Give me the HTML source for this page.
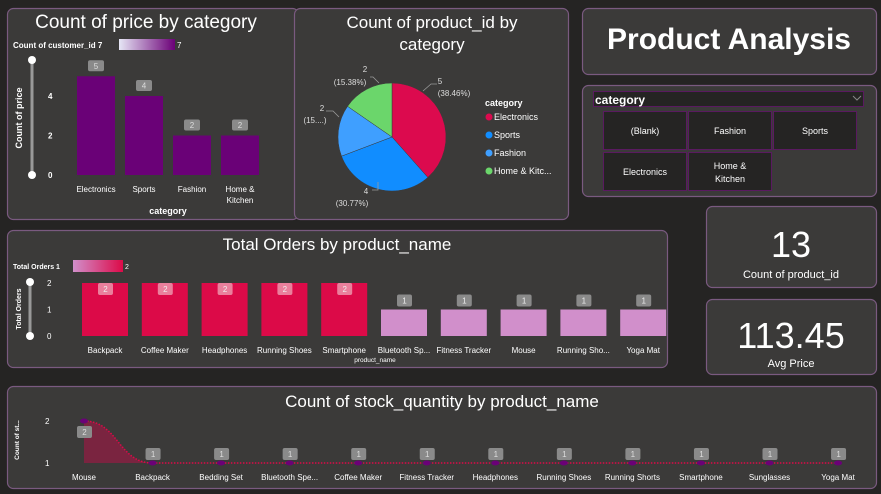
<!DOCTYPE html>
<html><head><meta charset="utf-8">
<style>
body{margin:0;width:881px;height:494px;background:#252423;overflow:hidden;font-family:"Liberation Sans",sans-serif;}
svg{display:block}
text{font-family:"Liberation Sans",sans-serif;}
</style></head>
<body>
<svg id="s" width="881" height="494">
<defs>
<linearGradient id="g1" x1="0" x2="1"><stop offset="0" stop-color="#e6e6f5"/><stop offset="1" stop-color="#6b0077"/></linearGradient>
<linearGradient id="g2" x1="0" x2="1"><stop offset="0" stop-color="#d18fcb"/><stop offset="1" stop-color="#dc0a48"/></linearGradient>
</defs>
<g fill="#3b3a39" stroke="#7a5a80" stroke-width="1.2">
<rect x="7.5" y="8.5" width="291" height="211" rx="6"/>
<rect x="294.5" y="8.5" width="274" height="211" rx="6"/>
<rect x="582.5" y="8.5" width="294" height="66" rx="6"/>
<rect x="582.5" y="85.5" width="294" height="111" rx="6"/>
<rect x="7.5" y="230.5" width="660" height="137" rx="6"/>
<rect x="706.5" y="206.5" width="170" height="81" rx="6"/>
<rect x="706.5" y="299.5" width="170" height="75" rx="6"/>
<rect x="7.5" y="386.5" width="869" height="102" rx="6"/>
</g>
<g fill="#fff" text-anchor="middle">
<text x="146" y="28" font-size="19">Count of price by category</text>
<text x="432" y="28" font-size="17">Count of product_id by</text>
<text x="432" y="50" font-size="17">category</text>
<text x="729" y="49" font-size="30" font-weight="bold">Product Analysis</text>
<text x="337" y="250" font-size="17">Total Orders by product_name</text>
<text x="442" y="407" font-size="17">Count of stock_quantity by product_name</text>
<text x="791" y="257" font-size="36">13</text>
<text x="791" y="278" font-size="11">Count of product_id</text>
<text x="791" y="348" font-size="36">113.45</text>
<text x="791" y="367" font-size="11">Avg Price</text>
</g>
<g>
<rect x="593.5" y="91.5" width="270" height="15" fill="#252423" stroke="#5a1a60"/>
<text x="595" y="104" fill="#fff" font-size="12" font-weight="bold">category</text>
<path d="M853 96 l4 4 l4 -4" fill="none" stroke="#888"/>
</g>
<g id="slicer" font-size="9" fill="#fff" text-anchor="middle"></g>
<g id="c1"></g><g id="c2"></g><g id="c5"></g><g id="c8"></g>
</svg>
<script>
const NS="http://www.w3.org/2000/svg";
function el(p,t,a,txt){const e=document.createElementNS(NS,t);for(const k in a)e.setAttribute(k,a[k]);if(txt!==undefined)e.textContent=txt;p.appendChild(e);return e;}

const cat1=["Electronics","Sports","Fashion","Home & Kitchen"];
const val1=[5,4,2,2];
const ticks1=[0,2,4];
const pieCats=["Electronics","Sports","Fashion","Home & Kitchen"];
const pieVals=[5,4,2,2];
const pieColors=["#dc0a4e","#118dff","#3f9fff","#6bd66b"];
const cat5=["Backpack","Coffee Maker","Headphones","Running Shoes","Smartphone","Bluetooth Sp...","Fitness Tracker","Mouse","Running Sho...","Yoga Mat"];
const val5=[2,2,2,2,2,1,1,1,1,1];
const ticks5=[0,1,2];
const cat8=["Mouse","Backpack","Bedding Set","Bluetooth Spe...","Coffee Maker","Fitness Tracker","Headphones","Running Shoes","Running Shorts","Smartphone","Sunglasses","Yoga Mat"];
const val8=[2,1,1,1,1,1,1,1,1,1,1,1];
const ticks8=[1,2];
const slicerItems=["(Blank)","Fashion","Sports","Electronics","Home & Kitchen"];

(function(){const g=document.getElementById('slicer');
slicerItems.forEach((s,i)=>{const c=i%3,r=Math.floor(i/3);const x=603+c*85,y=111+r*41;
const b=el(g,'rect',{x:x+.5,y:y+.5,width:83,height:38,fill:'#252423',stroke:'#5a1a60'});


if(s==="Home & Kitchen"){el(g,'text',{x:x+42,y:y+17},"Home &");el(g,'text',{x:x+42,y:y+30},"Kitchen");}
else el(g,'text',{x:x+42,y:y+23},s);});})();

(function(){const g=document.getElementById('c1');
const y0=175,k=19.75,x0=96,step=48,w=38;const Y=v=>y0-v*k,X=i=>x0+i*step;
el(g,'text',{x:13,y:48,fill:'#fff','font-size':8,'font-weight':'bold'},"Count of customer_id  7");
el(g,'rect',{x:119,y:39,width:56,height:11,fill:'url(#g1)'});
el(g,'text',{x:177,y:48,fill:'#fff','font-size':8},"7");
el(g,'line',{x1:32,y1:60,x2:32,y2:175,stroke:'#999','stroke-width':3});
el(g,'circle',{cx:32,cy:60,r:4,fill:'#fff'});el(g,'circle',{cx:32,cy:175,r:4,fill:'#fff'});
el(g,'text',{x:22,y:118,fill:'#fff','font-size':9,'font-weight':'bold','text-anchor':'middle',transform:'rotate(-90 22 118)'},"Count of price");
ticks1.forEach(t=>el(g,'text',{x:48,y:Y(t)+3,fill:'#fff','font-size':8,'font-weight':'bold'},t));
val1.forEach((v,i)=>{const r=el(g,'rect',{x:X(i)-w/2,y:Y(v),width:w,height:v*k,fill:'#6a0177'});


el(g,'rect',{x:X(i)-8,y:Y(v)-16,width:16,height:11,rx:2,fill:'#8a8a8a'});
el(g,'text',{x:X(i),y:Y(v)-7.5,fill:'#ddd','font-size':8,'text-anchor':'middle'},v);
if(cat1[i]==="Home & Kitchen"){el(g,'text',{x:X(i),y:192,fill:'#fff','font-size':8,'text-anchor':'middle'},"Home &");el(g,'text',{x:X(i),y:203,fill:'#fff','font-size':8,'text-anchor':'middle'},"Kitchen");}
else el(g,'text',{x:X(i),y:192,fill:'#fff','font-size':8,'text-anchor':'middle'},cat1[i]);});
el(g,'text',{x:168,y:214,fill:'#fff','font-size':9,'font-weight':'bold','text-anchor':'middle'},"category");})();

(function(){const g=document.getElementById('c2');const cx=392,cy=137,R=54;
const tot=pieVals.reduce((a,b)=>a+b,0);let a=-Math.PI/2;
// label anchor positions (layout only)
const lbl=[[440,84,454,96,'M423,91 L431,84 L437,84'],[366,194,352,206,'M378,182 L378,190 L372,190'],[322,111,315,123,'M339,117 L333,111 L326,111'],[365,72,350,85,'M379,83 L373,77 L370,77']];
pieVals.forEach((v,i)=>{const a2=a+v/tot*2*Math.PI;
const p=el(g,'path',{d:`M${cx},${cy} L${cx+R*Math.cos(a)},${cy+R*Math.sin(a)} A${R},${R} 0 ${a2-a>Math.PI?1:0} 1 ${cx+R*Math.cos(a2)},${cy+R*Math.sin(a2)} Z`,fill:pieColors[i],stroke:'#3b3a39','stroke-width':0.5});


const pct=(v/tot*100).toFixed(2);
const L=lbl[i];
el(g,'path',{d:L[4],fill:'none',stroke:'#999','stroke-width':0.8});
el(g,'text',{x:L[0],y:L[1],fill:'#ddd','font-size':8,'text-anchor':'middle'},v);
el(g,'text',{x:L[2],y:L[3],fill:'#ddd','font-size':8,'text-anchor':'middle'},i==2?"(15....)":"("+pct+"%)");
a=a2;});
el(g,'text',{x:485,y:106,fill:'#fff','font-size':9,'font-weight':'bold'},"category");
pieCats.forEach((c,i)=>{el(g,'circle',{cx:489,cy:117+i*18,r:3.5,fill:pieColors[i]});
const t=el(g,'text',{x:494,y:120+i*18,fill:'#fff','font-size':9},c==="Home & Kitchen"?"Home & Kitc...":c);
});})();

(function(){const g=document.getElementById('c5');
const y0=336,k=26.5,x0=105,step=59.8,w=46;const Y=v=>y0-v*k,X=i=>x0+i*step;
el(g,'text',{x:13,y:269,fill:'#fff','font-size':7,'font-weight':'bold'},"Total Orders  1");
el(g,'rect',{x:73,y:260,width:50,height:12,fill:'url(#g2)'});
el(g,'text',{x:125,y:269,fill:'#fff','font-size':7},"2");
el(g,'line',{x1:30,y1:282,x2:30,y2:336,stroke:'#999','stroke-width':3});
el(g,'circle',{cx:30,cy:282,r:4,fill:'#fff'});el(g,'circle',{cx:30,cy:336,r:4,fill:'#fff'});
el(g,'text',{x:21,y:309,fill:'#fff','font-size':7,'font-weight':'bold','text-anchor':'middle',transform:'rotate(-90 21 309)'},"Total Orders");
ticks5.forEach(t=>el(g,'text',{x:47,y:Y(t)+3,fill:'#fff','font-size':8},t));
val5.forEach((v,i)=>{const r=el(g,'rect',{x:X(i)-w/2,y:Y(v),width:w,height:v*k,fill:v>=2?'#dc0a48':'#d18fcb'});


const ly=v>=2?Y(v):Y(v)-15;
el(g,'rect',{x:X(i)-7,y:ly,width:15,height:12,rx:2,fill:v>=2?'#ea7f9c':'#8a8a8a'});
el(g,'text',{x:X(i)+.5,y:ly+9,fill:'#eee','font-size':8,'text-anchor':'middle'},v);
el(g,'text',{x:X(i),y:353,fill:'#fff','font-size':8,'text-anchor':'middle'},cat5[i]);});
el(g,'text',{x:375,y:362,fill:'#fff','font-size':6.5,'text-anchor':'middle'},"product_name");})();

(function(){const g=document.getElementById('c8');
const y1=463,k=42,x0=84,step=68.55;const Y=v=>y1-(v-1)*k,X=i=>x0+i*step;
el(g,'text',{x:19,y:440,fill:'#fff','font-size':6.5,'font-weight':'bold','text-anchor':'middle',transform:'rotate(-90 19 440)'},"Count of st...");
ticks8.forEach(t=>el(g,'text',{x:45,y:Y(t)+3,fill:'#fff','font-size':8},t));
let d=`M${X(0)},${Y(val8[0])}`;
for(let i=1;i<val8.length;i++){const xa=X(i-1),xb=X(i);d+=` C${xa+step*0.5},${Y(val8[i-1])} ${xb-step*0.5},${Y(val8[i])} ${xb},${Y(val8[i])}`;}
el(g,'path',{d:d+` L${X(val8.length-1)},${Y(1)} L${X(0)},${Y(1)} Z`,fill:'#7a2440'});
const ln=el(g,'path',{d:d,fill:'none',stroke:'#dc0a48','stroke-width':1.5,'stroke-dasharray':'1.5 1.5'});

val8.forEach((v,i)=>{const m=el(g,'ellipse',{cx:X(i),cy:Y(v),rx:4,ry:2.5,fill:'#6a0177'});


const ly=v>=2?Y(v)+5:Y(v)-15;
el(g,'rect',{x:X(i)-7,y:ly,width:15,height:12,rx:2,fill:'#8a8a8a'});
el(g,'text',{x:X(i)+.5,y:ly+9,fill:'#ddd','font-size':8,'text-anchor':'middle'},v);
el(g,'text',{x:X(i),y:480,fill:'#fff','font-size':8,'text-anchor':'middle'},cat8[i]);});})();
</script>
</body></html>
